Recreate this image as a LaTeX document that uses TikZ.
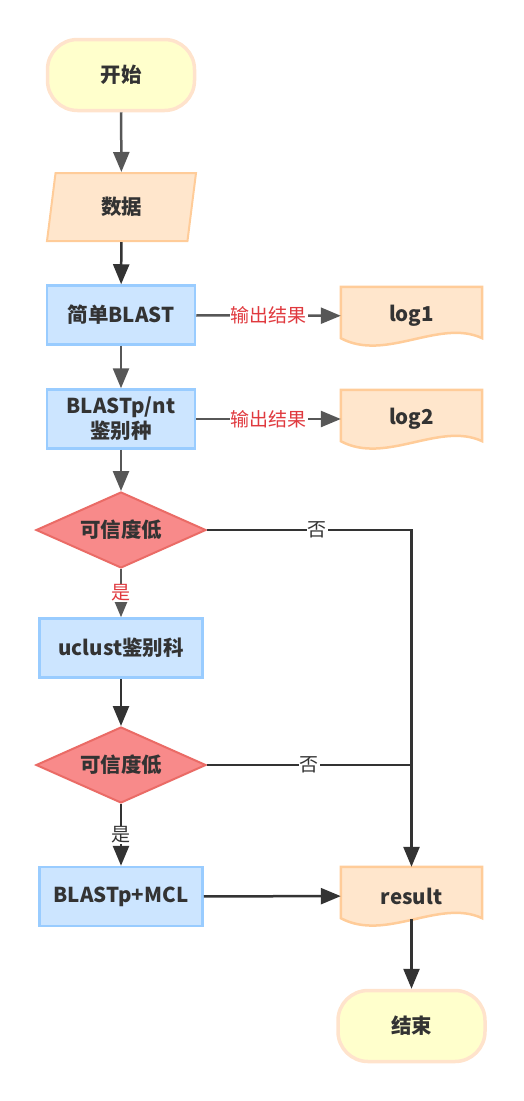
\documentclass[tikz,border=0pt]{standalone}
\usepackage{fontspec}
\setmainfont{Noto Sans CJK SC}
\usepackage{xcolor}
\usetikzlibrary{arrows.meta, shapes.geometric, calc, positioning, backgrounds}
\definecolor{termfill}{HTML}{FFFFCC}
\definecolor{termline}{HTML}{FFE3CC}
\definecolor{iofill}{HTML}{FFE6CC}
\definecolor{ioline}{HTML}{FFCC99}
\definecolor{procfill}{HTML}{CCE5FF}
\definecolor{procline}{HTML}{99CCFF}
\definecolor{decfill}{HTML}{F88A8A}
\definecolor{decline}{HTML}{EA6B66}
\definecolor{txt}{HTML}{333333}
\definecolor{redtxt}{HTML}{E0393E}
\definecolor{arrgray}{HTML}{575757}

\newcommand\docpath[1]{%
    \begin{pgfonlayer}{background}
        \draw[docline] (#1.north west) -- (#1.north east) -- ($(#1.south east)+(0,-7)$)
        .. controls ($(#1.south east)+(-43,-27)$) and ($(#1.south west)+(45,17)$) .. ($(#1.south west)+(0,-7)$) -- cycle;
    \end{pgfonlayer}}

\begin{document}
\begin{tikzpicture}[x=1pt, y=-1pt, text=txt,
        bold/.style={font=\bfseries\fontsize{20.5}{25}\selectfont},
        term/.style={bold, draw=termline, fill=termfill, line width=3.5pt, rounded corners=30pt, minimum width=147pt, minimum height=71pt},
        proc/.style={bold, draw=procline, fill=procfill, line width=2.5pt, minimum width=148pt, minimum height=59pt, align=center, inner sep=0pt},
        io/.style={bold, trapezium, trapezium left angle=72, trapezium right angle=108, trapezium stretches body, draw=ioline, fill=iofill, line width=2pt, minimum width=149pt, minimum height=68pt},
        doc/.style={bold, minimum width=141pt, minimum height=58pt, inner sep=0pt},
        docline/.style={draw=ioline, fill=iofill, line width=2.5pt},
        dec/.style={bold, diamond, aspect=2.2, draw=decline, fill=decfill, line width=2pt, minimum width=170pt, minimum height=76pt, inner sep=0pt},
        flow/.style={line width=2.5pt, draw=arrgray, -{Triangle[length=20pt, width=16pt]}},
        flowdark/.style={flow, draw=txt},
        lbl/.style={fill=white, inner sep=1pt, font=\fontsize{19}{22}\selectfont}]
    \useasboundingbox (0,0) rectangle (524,1101);

    \node[term] (start) at (121,75) {开始};
    \node[io] (data) at (121.5,207) {数据};
    \node[proc] (blast1) at (121,315) {简单BLAST};
    \node[proc] (blastp) at (121,419) {BLASTp/nt\\鉴别种};
    \node[dec] (dec1) at (121,530) {可信度低};
    \node[proc, minimum width=163pt] (uclust) at (121,648) {uclust鉴别科};
    \node[dec] (dec2) at (121,765) {可信度低};
    \node[proc, minimum width=163pt] (mcl) at (121,896.5) {BLASTp+MCL};

    \node[doc] (log1) at (411.5,316) {log1};
    \node[doc] (log2) at (411.5,419) {log2};
    \node[doc] (result) at (411.5,896) {result};
    \node[term] (end) at (411.5,1026) {结束};
    \docpath{log1}
    \docpath{log2}
    \docpath{result}

    \draw[flow] (start) -- (data);
    \draw[flowdark] (data) -- (blast1);
    \draw[flow] (blast1) -- (blastp);
    \draw[flow] (blastp) -- (dec1);
    \draw[flow] (blast1) -- node[lbl, text=redtxt] {输出结果} (log1);
    \draw[flow] (blastp) -- node[lbl, text=redtxt] {输出结果} (log2);
    \draw[flow] (dec1) -- node[lbl, text=redtxt] {是} (uclust);
    \draw[flowdark] (dec1) -| node[lbl, pos=0.27] {否} (result);
    \draw[flowdark] (uclust) -- (dec2);
    \draw[flowdark, -] (dec2) -- node[lbl] {否} (dec2 -| result);
    \draw[flowdark] (dec2) -- node[lbl] {是} (mcl);
    \draw[flowdark] (mcl) -- (result);
    \draw[flowdark] ($(result.south)+(0,-6)$) -- (end);
\end{tikzpicture}
\end{document}
